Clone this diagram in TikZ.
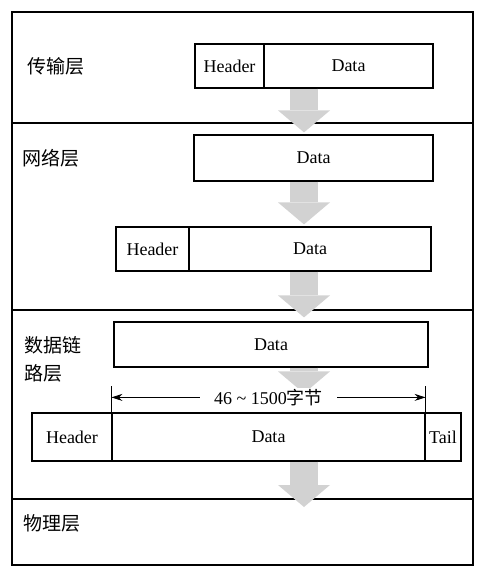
\documentclass[tikz,border=0pt]{standalone}
\usepackage{fontspec}
\setmainfont{Liberation Serif}
\newfontfamily\cjk{Noto Sans CJK SC}
\usetikzlibrary{arrows.meta,positioning,calc}
\tikzset{
  layerbox/.style={draw, line width=1.6pt, anchor=north west, minimum width=461pt, inner sep=0pt},
  layername/.style={anchor=west, align=left, inner sep=0pt, font=\cjk\fontsize{19}{28}\selectfont},
  fieldbox/.style={draw, line width=1.2pt, minimum height=44pt, inner sep=0pt, font=\fontsize{18}{20}\selectfont},
  flowarrow/.style={line width=28pt, draw=gray!35, -{Triangle[length=22pt, width=52pt, line width=0pt]}},
  dimline/.style={line width=0.9pt, {Stealth[length=11pt, width=7pt]}-{Stealth[length=11pt, width=7pt]}},
  dimtick/.style={line width=0.9pt}
}
\begin{document}
\begin{tikzpicture}[x=1pt,y=-1pt]
  \useasboundingbox (0,0) rectangle (483,574);
  % layers
  \node[layerbox, minimum height=111pt] (transport) at (11,11) {};
  \node[layerbox, minimum height=187pt] (network) at (11,122) {};
  \node[layerbox, minimum height=189pt] (datalink) at (11,309) {};
  \node[layerbox, minimum height=66pt] (physical) at (11,498) {};
  \node[layername] (ltransport) at (27,66) {传输层};
  \node[layername] (lnetwork) at (22,158) {网络层};
  \node[layername] (ldatalink) at (24,359) {数据链\\路层};
  \node[layername] (lphysical) at (23,523) {物理层};
  % packets
  \node[fieldbox, minimum width=69pt] (trhead) at (229.5,66) {Header};
  \node[fieldbox, minimum width=169pt] (trdata) at (348.5,66) {Data};
  \node[fieldbox, minimum width=239pt, minimum height=46pt] (netdata) at (313.5,158) {Data};
  \node[fieldbox, minimum width=73pt] (nethead) at (152.5,249) {Header};
  \node[fieldbox, minimum width=242pt] (netdata2) at (310,249) {Data};
  \node[fieldbox, minimum width=314pt, minimum height=45pt] (dldata) at (271,344.5) {Data};
  \node[fieldbox, minimum width=80pt, minimum height=48pt] (fhead) at (72,437) {Header};
  \node[fieldbox, minimum width=313pt, minimum height=48pt] (fdata) at (268.5,437) {Data};
  \node[fieldbox, minimum width=36pt, minimum height=48pt] (ftail) at (443,437) {Tail};
  % flow down the stack
  \coordinate (axis) at (304,0);
  \coordinate (sink) at (304,507);
  \draw[flowarrow, shorten >=2pt] (trdata.south -| axis) -- (netdata.north -| axis);
  \draw[flowarrow, shorten >=2pt] (netdata.south -| axis) -- (netdata2.north -| axis);
  \draw[flowarrow, shorten >=4pt] (netdata2.south -| axis) -- (dldata.north -| axis);
  \draw[flowarrow, shorten >=19pt] (dldata.south -| axis) -- (fdata.north -| axis);
  \draw[flowarrow] (fdata.south -| axis) -- (sink);
  % data length
  \coordinate (dimL) at ($(fdata.north west)+(0,-15)$);
  \coordinate (dimR) at ($(fdata.north east)+(0,-15)$);
  \draw[dimtick] (fdata.north west) -- ++(0,-26);
  \draw[dimtick] (fdata.north east) -- ++(0,-26);
  \draw[dimline] (dimL) -- node[fill=white, inner xsep=14pt, inner ysep=1pt, font=\fontsize{18}{20}\selectfont] (bytes) {46 \textasciitilde{} 1500{\cjk 字节}} (dimR);
\end{tikzpicture}
\end{document}
